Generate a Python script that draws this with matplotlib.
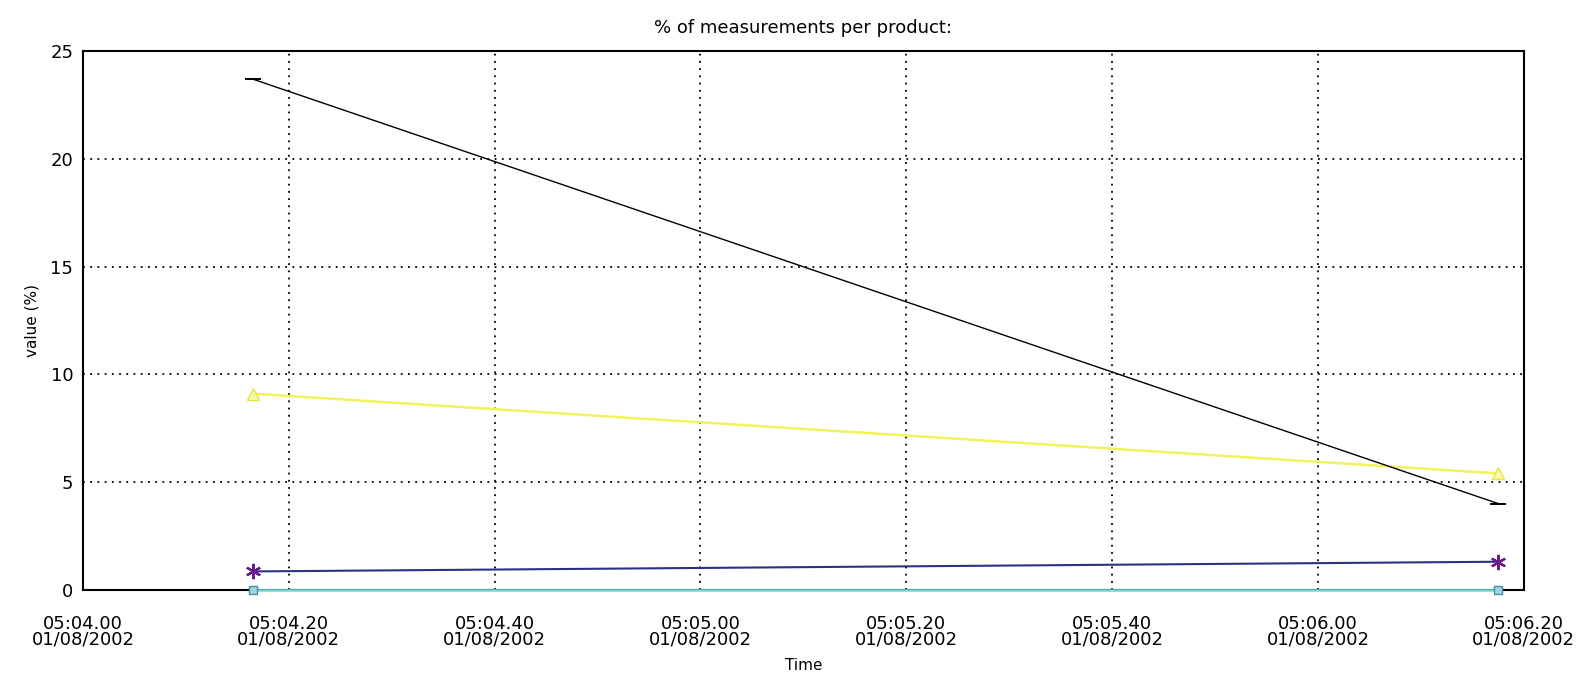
import numpy as np
import matplotlib
matplotlib.use("Agg")
import matplotlib.pyplot as plt

# sample times and values
times = np.array(["2002-01-08T05:04:16.5", "2002-01-08T05:06:17.5"], dtype="datetime64[ms]")
black_vals = [23.7, 4.0]
yellow_vals = [9.1, 5.4]
navy_vals = [0.85, 1.3]
cyan_vals = [0.0, 0.0]

tick_times = np.arange(np.datetime64("2002-01-08T05:04:00"),
                       np.datetime64("2002-01-08T05:06:21"),
                       np.timedelta64(20, "s"))
tick_labels = ["05:04.00", "05:04.20", "05:04.40", "05:05.00",
               "05:05.20", "05:05.40", "05:06.00", "05:06.20"]
date_label = "01/08/2002"

fig = plt.figure(figsize=(15.94, 6.81), dpi=100)
ax = fig.add_axes([0.052, 0.134, 0.904, 0.791])

t = times.astype("O")
ax.plot(t, cyan_vals, color="#6fdcdc", lw=1.8, marker="s", ms=6,
        mfc="#9fd8e0", mec="#4a8aa8", zorder=3, clip_on=False)
ax.plot(t, navy_vals, color="#2b2f85", lw=1.5, marker=(6, 2, 0), ms=11,
        mec="#6a1a8a", mew=1.6, zorder=3)
ax.plot(t, yellow_vals, color="#f2f25a", lw=1.8, marker="^", ms=9,
        mfc="#f8f8b0", mec="#e8e840", zorder=3)
ax.plot(t, black_vals, color="black", lw=1.0, marker="_", ms=12, mew=1.4, zorder=3)

ax.set_xlim(tick_times[0].astype("O"), tick_times[-1].astype("O"))
ax.set_ylim(0, 25)
ax.set_xticks([x.astype("O") for x in tick_times])
ax.set_xticklabels([lab + "\n" + date_label for lab in tick_labels], linespacing=0.85)
ax.set_yticks([0, 5, 10, 15, 20, 25])
ax.tick_params(length=0, labelsize=13, pad=7)
ax.tick_params(axis="x", pad=18)

ax.grid(True, color="black", linestyle=(0, (1, 3)), linewidth=1.3)
for s in ax.spines.values():
    s.set_linewidth(1.5)

ax.set_title("% of measurements per product:", fontsize=13, pad=13)
ax.set_xlabel("Time", fontsize=11, labelpad=7)
ax.set_ylabel("value (%)", fontsize=11, labelpad=8)

fig.savefig("out.png", dpi=100, facecolor="white")
